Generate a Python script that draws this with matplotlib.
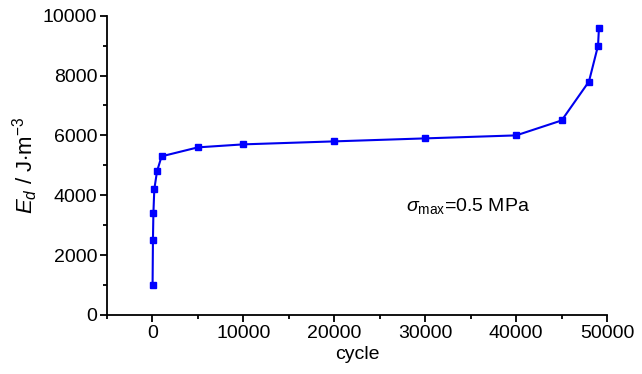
import numpy as np
import matplotlib
matplotlib.use("Agg")
import matplotlib.pyplot as plt
from matplotlib.ticker import MultipleLocator

plt.rcParams['font.family'] = ['Liberation Sans', 'DejaVu Sans']
plt.rcParams['mathtext.fontset'] = 'custom'
plt.rcParams['mathtext.rm'] = 'Liberation Sans'
plt.rcParams['mathtext.it'] = 'Liberation Sans:italic'
plt.rcParams['mathtext.bf'] = 'Liberation Sans:bold'

# data
cycle = [10, 50, 100, 200, 500, 1000, 5000, 10000, 20000, 30000, 40000, 45000, 48000, 49000, 49100]
energy = [1000, 2500, 3400, 4200, 4800, 5300, 5600, 5700, 5800, 5900, 6000, 6500, 7800, 9000, 9600]

fig = plt.figure(figsize=(6.42, 3.74), dpi=100)
ax = fig.add_axes([0.1667, 0.158, 0.779, 0.800])

ax.plot(cycle, energy, color='#0000ee', lw=1.5, marker='s', markersize=5,
        markerfacecolor='#0000ff', markeredgecolor='#0000ff')

ax.set_xlim(-5000, 50000)
ax.set_ylim(0, 10000)
ax.xaxis.set_major_locator(MultipleLocator(10000))
ax.xaxis.set_minor_locator(MultipleLocator(5000))
ax.yaxis.set_major_locator(MultipleLocator(2000))
ax.yaxis.set_minor_locator(MultipleLocator(1000))

ax.spines['top'].set_visible(False)
ax.spines['right'].set_visible(False)
for s in ['left', 'bottom']:
    ax.spines[s].set_linewidth(1.3)
ax.tick_params(which='major', direction='out', length=5, width=1.3, labelsize=14, pad=2)
ax.tick_params(which='minor', direction='out', length=3, width=1.3)

ax.set_xlabel('cycle', fontsize=14, labelpad=3)
ax.set_ylabel(r'$E_d$ / J$\cdot$m$^{-3}$', fontsize=16, labelpad=2)

ax.text(27900, 3650, r'$\sigma_{\rm max}$=0.5 MPa', fontsize=14, va='center', ha='left')

fig.savefig('out.png', dpi=100)
